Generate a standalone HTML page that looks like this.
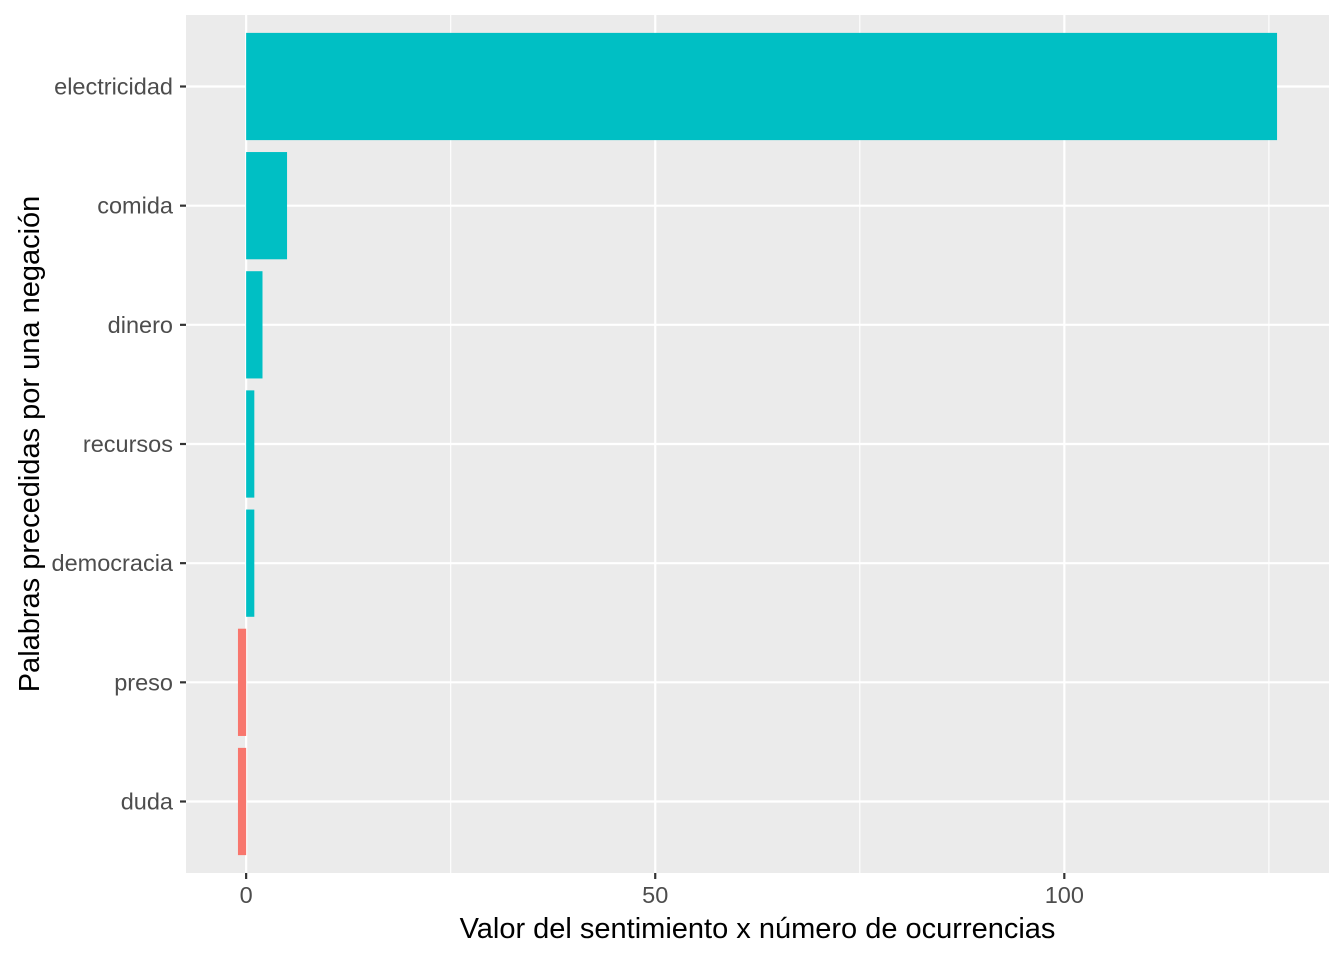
<!DOCTYPE html>
<html><head><meta charset="utf-8"><style>
body{margin:0;background:#fff;}
svg text{font-family:"Liberation Sans",sans-serif;}
</style></head><body>
<svg id="chart" width="1344" height="960"></svg>
<script>
const categories=["electricidad","comida","dinero","recursos","democracia","preso","duda"];
const values=[126,5,2,1,1,-1,-1];
const xTicks=[0,50,100];
const xMinor=[25,75,125];
const NS="http://www.w3.org/2000/svg";
const svg=document.getElementById('chart');
const L=186,R=1329,T=15,B=873;
const xmin=-7.35,xmax=132.35;
const x=v=>L+(v-xmin)/(xmax-xmin)*(R-L);
const n=categories.length;
const step=(B-T)/(n-1+1.2);
const y=i=>T+step*(0.6+i);
function el(t,a,p){const e=document.createElementNS(NS,t);for(const k in a)e.setAttribute(k,a[k]);(p||svg).appendChild(e);return e;}
const panel=el('rect',{x:L,y:T,width:R-L,height:B-T,fill:'#EBEBEB'});


xMinor.forEach(v=>{const g=el('line',{x1:x(v),x2:x(v),y1:T,y2:B,stroke:'#fff','stroke-width':1.1});

});
xTicks.forEach(v=>{const g=el('line',{x1:x(v),x2:x(v),y1:T,y2:B,stroke:'#fff','stroke-width':2.2});


const t=el('line',{x1:x(v),x2:x(v),y1:B,y2:B+6,stroke:'#333','stroke-width':2.2});


const lb=el('text',{x:x(v),y:B+30,'text-anchor':'middle','font-size':23.5,fill:'#4D4D4D'});lb.textContent=v;

});
categories.forEach((c,i)=>{const g=el('line',{x1:L,x2:R,y1:y(i),y2:y(i),stroke:'#fff','stroke-width':2.2});


const t=el('line',{x1:L-6,x2:L,y1:y(i),y2:y(i),stroke:'#333','stroke-width':2.2});


const lb=el('text',{x:L-13,y:y(i)+8,'text-anchor':'end','font-size':23.5,fill:'#4D4D4D'});lb.textContent=c;

});
categories.forEach((c,i)=>{const v=values[i];const h=step*0.9;
const b=el('rect',{x:Math.min(x(0),x(v)),y:y(i)-h/2,width:Math.abs(x(v)-x(0)),height:h,fill:v>=0?'#00BFC4':'#F8766D'});

});
const xt=el('text',{x:(L+R)/2,y:938,'text-anchor':'middle','font-size':29,fill:'#000'});xt.textContent='Valor del sentimiento x número de ocurrencias';


const yt=el('text',{x:0,y:0,'text-anchor':'middle','font-size':29,fill:'#000',transform:`translate(39,${(T+B)/2}) rotate(-90)`});yt.textContent='Palabras precedidas por una negación';


</script>
</body></html>
